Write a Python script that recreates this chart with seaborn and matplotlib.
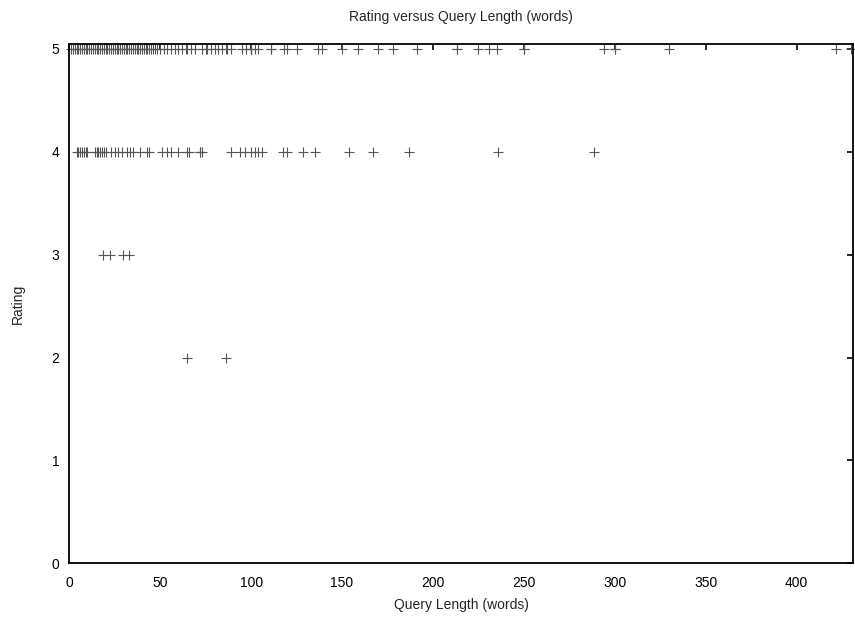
import pandas as pd
import matplotlib
matplotlib.use('Agg')
import matplotlib.pyplot as plt
import seaborn as sns

####################################################
# query lengths (words), grouped by rating
len_rating5 = [1, 2, 3, 4, 5, 6, 7, 8, 9, 10, 11, 12, 13, 14, 15, 16, 17, 18, 19, 20,
               21, 22, 23, 24, 25, 26, 27, 28, 29, 30, 31, 32, 33, 34, 35, 36, 37, 38, 39, 40,
               41, 42, 43, 44, 45, 46, 47, 48, 50, 52, 54,
               56, 58, 60, 62, 64, 65, 67, 69, 73, 75, 76, 78, 80, 82, 84, 86, 87, 89,
               95, 97, 100, 100, 100, 102, 104, 111, 111, 118, 120, 125, 137, 139, 150,
               159, 170, 178, 191, 213, 213, 225, 231, 235, 250, 250, 294, 300, 300, 330,
               422, 430]
len_rating4 = [4, 5, 6, 7, 8, 9, 10, 14, 15, 16, 17, 18, 19, 20, 23, 25, 27, 29, 31.5,
               33.5, 35, 39, 43, 44, 51, 53.5, 56, 60, 64.5, 66, 72, 72, 73, 89, 94, 96.5,
               100, 102, 104, 106, 117.5, 120, 128.5, 135, 154, 167, 187, 236, 288.5]
len_rating3 = [18.7, 22.4, 29.7, 33]
len_rating2 = [65, 86]

x_ticks = [0, 50, 100, 150, 200, 250, 300, 350, 400]
y_ticks = [0, 1, 2, 3, 4, 5]


def build_frame():
    rows = []
    for rating, lengths in [(5, len_rating5), (4, len_rating4), (3, len_rating3), (2, len_rating2)]:
        for q in lengths:
            rows.append({'length': q, 'rating': rating})
    return pd.DataFrame(rows)


def plot_rating(df):
    sns.set_style('white')
    plt.rcParams['font.family'] = ['Liberation Sans', 'DejaVu Sans']
    fig = plt.figure(figsize=(8.55, 6.18), dpi=100)
    ax = fig.add_axes([0.081, 0.0885, 0.9165, 0.840])
    sns.scatterplot(data=df, x='length', y='rating', marker='+', color='#555555',
                    s=55, linewidth=0.8, ax=ax, legend=False, clip_on=False)
    ax.set_xlim(0, 431)
    ax.set_ylim(0, 5.045)
    ax.set_xticks(x_ticks)
    ax.set_yticks(y_ticks)
    ax.tick_params(direction='in', length=4, width=1.2, top=True, right=True,
                   labelsize=10, colors='black')
    ax.tick_params(axis='x', pad=9)
    ax.tick_params(axis='y', pad=7)
    for sp in ax.spines.values():
        sp.set_visible(True)
        sp.set_color('black')
        sp.set_linewidth(1.3)
    ax.set_title('Rating versus Query Length (words)', fontsize=10, pad=17)
    ax.set_xlabel('Query Length (words)', fontsize=10, labelpad=6)
    ax.set_ylabel('Rating', fontsize=10, labelpad=19)
    fig.savefig('out.png', dpi=100)


if __name__ == '__main__':
    plot_rating(build_frame())
